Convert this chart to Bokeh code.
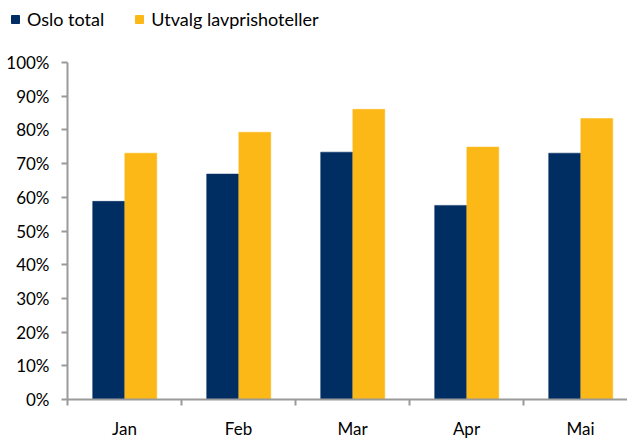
from bokeh.plotting import figure
from bokeh.layouts import column
from bokeh.models import (Range1d, FixedTicker, NumeralTickFormatter, Legend, LegendItem,
                          ColumnDataSource, LinearAxis)
from bokeh.transform import dodge
from bokeh.embed import file_html
from bokeh.resources import INLINE

months = ["Jan", "Feb", "Mar", "Apr", "Mai"]
oslo_total = [0.588, 0.669, 0.734, 0.576, 0.731]
utvalg = [0.731, 0.793, 0.861, 0.749, 0.834]
y_ticks = [0.0, 0.1, 0.2, 0.3, 0.4, 0.5, 0.6, 0.7, 0.8, 0.9, 1.0]
series_names = ["Oslo total", "Utvalg lavprishoteller"]

pos = [i + 0.5 for i in range(len(months))]
src = ColumnDataSource(dict(x=pos, oslo=oslo_total, utv=utvalg))

FONT = "Lato"
GRAY = "#9a9a9a"
NAVY = "#002d62"
GOLD = "#fbb817"

p = figure(width=627, height=401, output_backend="svg", toolbar_location=None,
           x_range=Range1d(0, 560 / 114), y_range=Range1d(0, 1),
           min_border_left=67, min_border_right=0, min_border_top=22, min_border_bottom=39,
           x_axis_type=None, y_axis_type=None)
p.outline_line_color = None
p.background_fill_color = "white"
p.border_fill_color = "white"

r1 = p.vbar(x=dodge("x", -0.139, range=p.x_range), top="oslo", width=0.28, source=src,
            fill_color=NAVY, line_color=NAVY, line_width=0.5)
r2 = p.vbar(x=dodge("x", 0.143, range=p.x_range), top="utv", width=0.28, source=src,
            fill_color=GOLD, line_color=GOLD, line_width=0.5)

# y axis
yax = LinearAxis(ticker=FixedTicker(ticks=y_ticks), formatter=NumeralTickFormatter(format="0%"))
yax.axis_line_color = GRAY
yax.axis_line_width = 2
yax.major_tick_line_color = GRAY
yax.major_tick_line_width = 2
yax.major_tick_out = 6
yax.major_tick_in = 0
yax.minor_tick_line_color = None
yax.major_label_standoff = 12
yax.major_label_text_font = FONT
yax.major_label_text_font_size = "17px"
yax.major_label_text_color = "#000000"
p.add_layout(yax, "left")

# x axis
xax = LinearAxis(ticker=FixedTicker(ticks=pos, minor_ticks=[0, 1, 2, 3, 4, 5]))
xax.major_label_overrides = {pos[i]: m for i, m in enumerate(months)}
xax.axis_line_color = GRAY
xax.axis_line_width = 2
xax.major_tick_line_color = None
xax.minor_tick_line_color = GRAY
xax.minor_tick_line_width = 2
xax.minor_tick_out = 6
xax.minor_tick_in = 0
xax.major_label_standoff = 12
xax.major_label_text_font = FONT
xax.major_label_text_font_size = "17px"
xax.major_label_text_color = "#000000"
p.add_layout(xax, "below")

p.xgrid.visible = False
p.ygrid.ticker = FixedTicker(ticks=y_ticks[1:])
p.ygrid.grid_line_color = GRAY
p.ygrid.grid_line_width = 2

# legend figure on top (its glyphs sit outside its visible range)
lf = figure(width=627, height=40, output_backend="svg", toolbar_location=None,
            x_range=Range1d(0, 1), y_range=Range1d(0, 1),
            min_border_left=0, min_border_right=0, min_border_top=0, min_border_bottom=0,
            x_axis_type=None, y_axis_type=None)
lf.outline_line_color = None
lf.xgrid.visible = False
lf.ygrid.visible = False
if "frame_align" in lf.properties():
    lf.frame_align = False
l1 = lf.vbar(x=[-5], top=[-5], width=0.1, fill_color=NAVY, line_color=NAVY)
l2 = lf.vbar(x=[-5], top=[-5], width=0.1, fill_color=GOLD, line_color=GOLD)

legend = Legend(items=[LegendItem(label=series_names[0], renderers=[l1]),
                       LegendItem(label=series_names[1], renderers=[l2])],
                orientation="horizontal", location=(10, 10))
legend.glyph_width = 10
legend.glyph_height = 10
legend.label_standoff = 7
legend.label_width = 0
legend.spacing = 30
legend.padding = 0
legend.margin = 0
legend.border_line_color = None
legend.background_fill_alpha = 0
legend.label_text_font = FONT
legend.label_text_font_size = "18px"
legend.label_text_color = "#000000"
lf.add_layout(legend, "center")

layout = column(lf, p, spacing=0)
open("out.html", "w").write(file_html(layout, INLINE))
